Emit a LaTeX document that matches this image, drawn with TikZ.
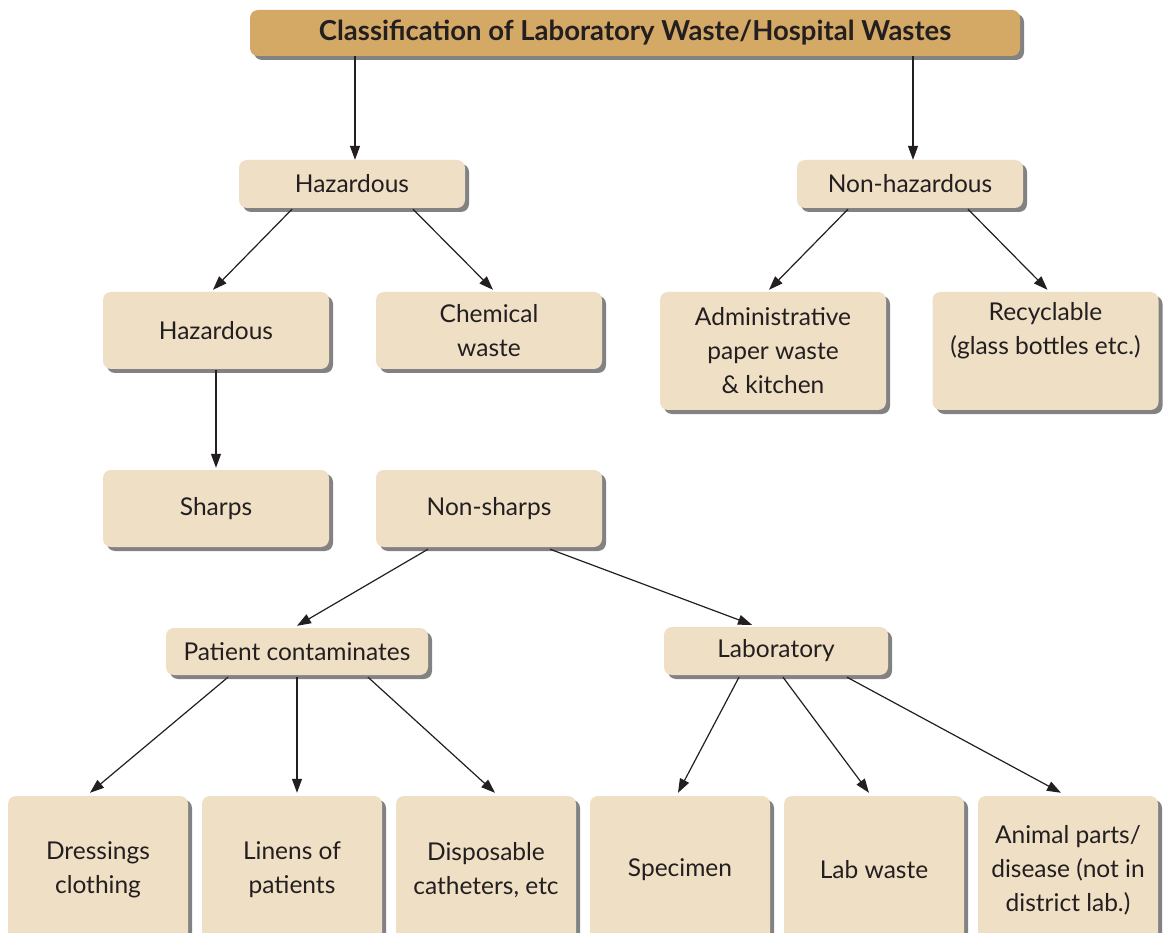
\documentclass[tikz,border=0pt]{standalone}
\usepackage{fontspec}
\setmainfont{Lato}
\usetikzlibrary{shadows,arrows.meta,calc}
\definecolor{boxfill}{HTML}{EFDFC5}
\definecolor{titlefill}{HTML}{D4A865}
\definecolor{ink}{HTML}{231F20}
\begin{document}
\begin{tikzpicture}[x=1pt,y=-1pt,
  base/.style={rectangle, rounded corners=8pt, fill=boxfill, text=ink, align=center,
    inner sep=0pt, font=\fontsize{24.5}{34}\selectfont,
    drop shadow={shadow xshift=4pt, shadow yshift=-4pt, fill=black!65, opacity=0.75}},
  box/.style={base, minimum width=226pt, minimum height=#1},
  box/.default=47pt,
  lowbox/.style={base, minimum width=180pt, minimum height=148pt},
  titlebox/.style={base, fill=titlefill, minimum width=770pt, minimum height=46pt,
    font=\fontsize{27.5}{32}\selectfont\bfseries},
  arr/.style={draw=ink, line width=1.2pt, -{Triangle[length=14pt,width=10pt]}}]
\useasboundingbox (0,0) rectangle (1168,933);
\clip (0,0) rectangle (1168,933);
\fill[white] (0,0) rectangle (1168,933);

\node[titlebox] (title) at (635,33) {Classification of Laboratory Waste/Hospital Wastes};

\node[box=48pt] (haz1) at (352,184) {Hazardous};
\node[box=48pt] (nonhaz) at (910,184) {Non-hazardous};

\node[box=77pt] (haz2) at (216,330.5) {Hazardous};
\node[box=77pt] (chem) at (489,330.5) {Chemical\\waste};
\node[box=118pt] (admin) at (773,351) {Administrative\\paper waste\\\& kitchen};
\node[box=118pt] (recyc) at (1045.5,351) {Recyclable\\(glass bottles etc.)\\\strut};

\node[box=77pt] (sharps) at (216,508.5) {Sharps};
\node[box=77pt] (nonsharps) at (489,508.5) {Non-sharps};

\node[box=47pt, minimum width=262pt] (patient) at (297,651.5) {Patient contaminates};
\node[box=48pt, minimum width=224pt] (lab) at (776,651) {Laboratory};

\node[lowbox] (dress) at (98,870) {Dressings\\clothing};
\node[lowbox] (linen) at (292,870) {Linens of\\patients};
\node[lowbox] (disp) at (486,870) {Disposable\\catheters, etc};
\node[lowbox] (spec) at (680,870) {Specimen};
\node[lowbox] (labw) at (874,870) {Lab waste};
\node[lowbox] (anim) at (1068,870) {Animal parts/\\disease (not in\\district lab.)};

\draw[arr] ([xshift=3pt]haz1.north |- title.south) -- ([xshift=3pt]haz1.north);
\draw[arr] ([xshift=3pt]nonhaz.north |- title.south) -- ([xshift=3pt]nonhaz.north);

\draw[arr] ([xshift=-60pt,yshift=-1pt]haz1.south) -- ([xshift=-3pt,yshift=2pt]haz2.north);
\draw[arr] ([xshift=61pt,yshift=-1pt]haz1.south) -- ([xshift=4pt,yshift=2pt]chem.north);
\draw[arr] ([xshift=-62pt,yshift=-1pt]nonhaz.south) -- ([xshift=-4pt,yshift=2pt]admin.north);
\draw[arr] ([xshift=58pt,yshift=-1pt]nonhaz.south) -- ([xshift=2pt,yshift=2pt]recyc.north);

\draw[arr] ([yshift=-1pt]haz2.south) -- ([yshift=2pt]sharps.north);

\draw[arr] ([xshift=-61pt,yshift=-2pt]nonsharps.south) -- ([yshift=2pt]patient.north);
\draw[arr] ([xshift=61pt,yshift=-2pt]nonsharps.south) -- ([xshift=-24pt,yshift=2pt]lab.north);

\draw[arr] ([xshift=-69pt,yshift=-2pt]patient.south) -- ([xshift=-8pt,yshift=3pt]dress.north);
\draw[arr] ([yshift=-2pt]patient.south) -- ([yshift=3pt]patient.south |- linen.north);
\draw[arr] ([xshift=71pt,yshift=-2pt]patient.south) -- ([xshift=9pt,yshift=3pt]disp.north);

\draw[arr] ([xshift=-37pt,yshift=-2pt]lab.south) -- ([xshift=-2pt,yshift=3pt]spec.north);
\draw[arr] ([xshift=7pt,yshift=-2pt]lab.south) -- ([xshift=-5pt,yshift=3pt]labw.north);
\draw[arr] ([xshift=71pt,yshift=-2pt]lab.south) -- ([xshift=-7pt,yshift=3pt]anim.north);
\end{tikzpicture}
\end{document}
